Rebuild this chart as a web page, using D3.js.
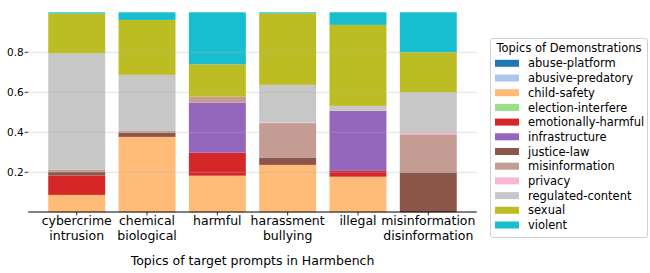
<!DOCTYPE html>
<html><head><meta charset="utf-8">
<script src="https://cdn.jsdelivr.net/npm/d3@7"></script>
<style>body{margin:0;background:#fff;} text{font-family:"DejaVu Sans",sans-serif;}</style>
</head><body><svg id="c" width="650" height="273"></svg>
<script>
const categories = ["cybercrime\nintrusion","chemical\nbiological","harmful","harassment\nbullying","illegal","misinformation\ndisinformation"];
const topics = ["abuse-platform","abusive-predatory","child-safety","election-interfere","emotionally-harmful","infrastructure","justice-law","misinformation","privacy","regulated-content","sexual","violent"];
const colors = ["#1f77b4","#aec7e8","#ffbb78","#98df8a","#d62728","#9467bd","#8c564b","#c49c94","#f7b6d2","#c7c7c7","#bcbd22","#17becf"];
// values per topic, one per category
const abusePlatform     = [0,0,0,0,0,0];
const abusivePredatory  = [0,0,0,0,0,0];
const childSafety       = [0.087,0.377,0.183,0.237,0.178,0];
const electionInterfere = [0,0,0,0,0,0];
const emotionallyHarmful= [0.097,0,0.115,0,0.029,0];
const infrastructure    = [0,0,0.25,0,0.30,0];
const justiceLaw        = [0.02,0.022,0,0.037,0,0.2];
const misinformation    = [0.01,0.008,0.03,0.172,0,0.19];
const privacy           = [0,0,0,0.003,0,0.01];
const regulatedContent  = [0.58,0.28,0,0.188,0.025,0.2];
const sexual            = [0.20,0.275,0.162,0.358,0.405,0.2];
const violent           = [0.006,0.038,0.26,0.005,0.063,0.2];
const yTicks = [0.2,0.4,0.6,0.8];

const series = [abusePlatform,abusivePredatory,childSafety,electionInterfere,emotionallyHarmful,infrastructure,justiceLaw,misinformation,privacy,regulatedContent,sexual,violent];
const rows = categories.map((c,i)=>{const r={cat:c}; topics.forEach((t,j)=>r[t]=series[j][i]); return r;});
const stacked = d3.stack().keys(topics)(rows);

const svg = d3.select("#c");
const L=28.2, R=476.8;
const x = d3.scaleBand().domain(categories).range([L,R]).paddingInner(0.19).paddingOuter(0.285);
const y = d3.scaleLinear().domain([0,1.05]).range([212.3,2.3]);

// bars
svg.append("g").selectAll("g").data(stacked).join("g").attr("fill",(d,i)=>colors[i])
  .selectAll("rect").data(d=>d.map((v,i)=>({v,cat:categories[i]}))).join("rect")
  .attr("x",d=>x(d.cat)).attr("width",x.bandwidth())
  .attr("y",d=>y(d.v[1])).attr("height",d=>Math.max(0,y(d.v[0])-y(d.v[1])));

// grid on top
svg.append("g").selectAll("line").data(yTicks).join("line")
  .attr("x1",L).attr("x2",R).attr("y1",d=>y(d)).attr("y2",d=>y(d))
  .attr("stroke","#b0b0b0").attr("stroke-opacity",0.5).attr("stroke-width",0.8);

// y ticks
const yg = svg.append("g");
yg.selectAll("line").data(yTicks).join("line").attr("x1",L-3.5).attr("x2",L).attr("y1",d=>y(d)).attr("y2",d=>y(d)).attr("stroke","#000").attr("stroke-width",0.8);
yg.selectAll("text").data(yTicks).join("text").attr("x",L-4.5).attr("y",d=>y(d)).attr("dy","0.36em")
  .attr("text-anchor","end").attr("font-size",10.5).text(d=>d.toFixed(1));

// x axis
svg.append("line").attr("x1",L).attr("x2",R).attr("y1",212).attr("y2",212).attr("stroke","#000").attr("stroke-width",1);
const xg = svg.append("g");
categories.forEach(c=>{
  const cx = x(c)+x.bandwidth()/2;
  xg.append("line").attr("x1",cx).attr("x2",cx).attr("y1",212).attr("y2",215.5).attr("stroke","#000").attr("stroke-width",0.8);
  const t = xg.append("text").attr("text-anchor","middle").attr("font-size",12.5);
  c.split("\n").forEach((s,k)=>t.append("tspan").attr("x",cx).attr("y",225+k*14.5).text(s));
});
svg.append("text").attr("x",(L+R)/2).attr("y",265).attr("text-anchor","middle").attr("font-size",12.5).text("Topics of target prompts in Harmbench");

// legend
const lg = svg.append("g");
lg.append("rect").attr("x",490.5).attr("y",38.5).attr("width",157).attr("height",199).attr("rx",2.5)
  .attr("fill","#fff").attr("stroke","#d0d0d0").attr("stroke-width",1);
lg.append("text").attr("x",569).attr("y",52).attr("text-anchor","middle").attr("font-size",11.5).text("Topics of Demonstrations");
topics.forEach((t,i)=>{
  const cy = 63.3+i*14.7;
  lg.append("rect").attr("x",495).attr("y",cy-3.5).attr("width",24).attr("height",7).attr("fill",colors[i]);
  lg.append("text").attr("x",528).attr("y",cy).attr("dy","0.36em").attr("font-size",11.5).text(t);
});
</script></body></html>
